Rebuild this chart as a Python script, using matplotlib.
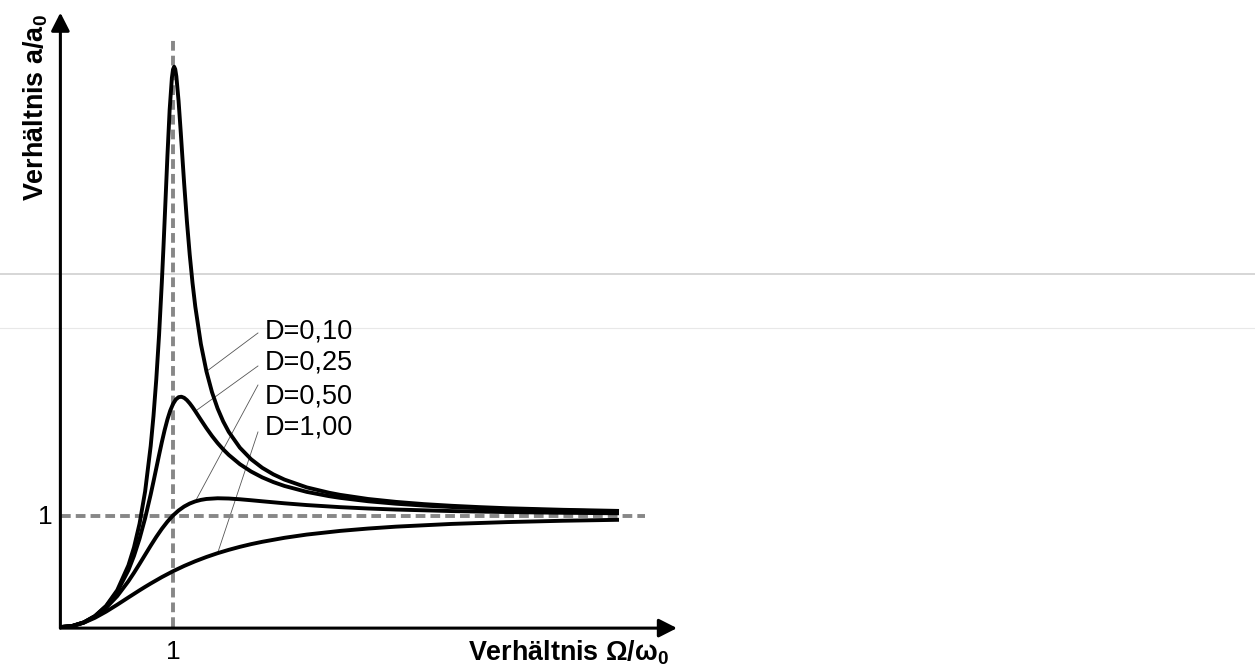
import matplotlib
matplotlib.use("Agg")
import matplotlib.pyplot as plt
from matplotlib.lines import Line2D

plt.rcParams['font.family'] = ['Liberation Sans', 'DejaVu Sans']
plt.rcParams['mathtext.fontset'] = 'custom'
plt.rcParams['mathtext.rm'] = 'Liberation Sans'
plt.rcParams['mathtext.bf'] = 'Liberation Sans:bold'

# Omega/omega0 against a/a0
eta_010 = [0, 0.1, 0.2, 0.3, 0.4, 0.5, 0.6, 0.65, 0.7, 0.75,
           0.8, 0.825, 0.85, 0.875, 0.9, 0.915, 0.93, 0.95, 0.97, 0.99,
           1.0, 1.01, 1.02, 1.03, 1.05, 1.07, 1.085, 1.1, 1.125, 1.15,
           1.175, 1.2, 1.25, 1.3, 1.35, 1.4, 1.45, 1.5, 1.6, 1.7,
           1.8, 1.9, 2.0, 2.2, 2.4, 2.5, 2.75, 3.0, 3.25, 3.5,
           3.75, 4.0, 4.5, 5.0]
amp_010 = [0, 0.0101, 0.0416, 0.0987, 0.1896, 0.3304, 0.5528, 0.7137, 0.9265, 1.216,
           1.624, 1.893, 2.220, 2.618, 3.095, 3.418, 3.762, 4.226, 4.640, 4.925,
           5.0, 5.025, 5.003, 4.939, 4.718, 4.430, 4.202, 3.978, 3.636, 3.339,
           3.086, 2.873, 2.538, 2.292, 2.105, 1.96, 1.844, 1.750, 1.608, 1.505,
           1.428, 1.369, 1.322, 1.252, 1.204, 1.185, 1.148, 1.122, 1.102, 1.087,
           1.075, 1.065, 1.051, 1.041]

eta_025 = [0, 0.1, 0.2, 0.3, 0.4, 0.5, 0.6, 0.65, 0.7, 0.75,
           0.8, 0.825, 0.85, 0.875, 0.9, 0.925, 0.95, 0.975, 1.0, 1.025,
           1.05, 1.075, 1.1, 1.125, 1.15, 1.175, 1.2, 1.25, 1.3, 1.35,
           1.4, 1.45, 1.5, 1.6, 1.7, 1.8, 1.9, 2.0, 2.2, 2.4,
           2.5, 2.75, 3.0, 3.25, 3.5, 3.75, 4.0, 4.5, 5.0]
amp_025 = [0, 0.0101, 0.0414, 0.0976, 0.1853, 0.3162, 0.5093, 0.6376, 0.7922, 0.9762,
           1.1893, 1.3047, 1.4234, 1.5426, 1.6582, 1.7660, 1.8613, 1.9401, 2.0, 2.0401,
           2.0612, 2.0652, 2.0554, 2.0346, 2.0059, 1.9723, 1.9354, 1.8582, 1.7828, 1.7128,
           1.6497, 1.5934, 1.5435, 1.4602, 1.3946, 1.3421, 1.2997, 1.2649, 1.2117, 1.1734,
           1.1581, 1.1279, 1.1057, 1.0890, 1.0760, 1.0656, 1.0573, 1.0448, 1.0361]

eta_050 = [0, 0.1, 0.2, 0.3, 0.4, 0.5, 0.6, 0.65, 0.7, 0.75,
           0.8, 0.85, 0.9, 0.95, 1.0, 1.05, 1.1, 1.15, 1.2, 1.25,
           1.3, 1.4, 1.5, 1.6, 1.7, 1.8, 2.0, 2.2, 2.5, 2.75,
           3.0, 3.5, 4.0, 4.5, 5.0]
amp_050 = [0, 0.0101, 0.0408, 0.0939, 0.172, 0.2774, 0.4104, 0.4859, 0.5658, 0.6478,
           0.7295, 0.8080, 0.8806, 0.9450, 1.0, 1.0450, 1.0805, 1.1073, 1.1267, 1.1399,
           1.1483, 1.1546, 1.1523, 1.1456, 1.1369, 1.1275, 1.1094, 1.0936, 1.0748, 1.0628,
           1.0534, 1.0397, 1.0307, 1.0243, 1.0198]

eta_100 = [0, 0.1, 0.2, 0.3, 0.4, 0.5, 0.6, 0.65, 0.7, 0.75,
           0.8, 0.9, 1.0, 1.1, 1.2, 1.3, 1.4, 1.5, 1.6, 1.7,
           1.8, 2.0, 2.2, 2.5, 2.75, 3.0, 3.5, 4.0, 4.5, 5.0]
amp_100 = [0, 0.0099, 0.0385, 0.0826, 0.138, 0.2, 0.265, 0.297, 0.329, 0.36,
           0.390, 0.4475, 0.5, 0.5475, 0.590, 0.628, 0.662, 0.692, 0.719, 0.743,
           0.764, 0.8, 0.829, 0.862, 0.883, 0.9, 0.9245, 0.941, 0.953, 0.9615]

labels = ["D=0,10", "D=0,25", "D=0,50", "D=1,00"]
# where each leader line touches its curve
anchor_eta = [1.3, 1.2, 1.2, 1.4]
label_y = [2.646, 2.368, 2.063, 1.785]
leader_end_y = [2.637, 2.341, 2.17, 1.749]

W, H = 1255, 666
x0, y0, u = 61.5, 627, 111.5  # origin in pixels and pixels per unit
span = 5.6

fig = plt.figure(figsize=(W / 100, H / 100), dpi=100)
fig.patch.set_facecolor('white')

# faint horizontal rules across the whole picture
fig.add_artist(Line2D([0, 1], [1 - 274 / H] * 2, color='#cfcfcf', lw=1.2, zorder=-1))
fig.add_artist(Line2D([0, 1], [1 - 328 / H] * 2, color='#e8e8e8', lw=0.8, zorder=-1))

ax = fig.add_axes([x0 / W, (H - y0) / H, span * u / W, span * u / H])
ax.set_xlim(0, span)
ax.set_ylim(0, span)
ax.axis('off')
ax.patch.set_alpha(0)

grey = '#878787'
ax.plot([1, 1], [0, 5.28], color=grey, lw=2.8, dashes=(2.5, 1.3), zorder=2, clip_on=False)
ax.plot([0, 5.23], [1, 1], color=grey, lw=2.8, dashes=(2.5, 1.3), zorder=2, clip_on=False)

curves = [(eta_010, amp_010), (eta_025, amp_025), (eta_050, amp_050), (eta_100, amp_100)]
for (xs, ys), lab, ae, ty, ly in zip(curves, labels, anchor_eta, label_y, leader_end_y):
    ax.plot(xs, ys, color='black', lw=2.8, solid_joinstyle='round', solid_capstyle='butt',
            zorder=3, clip_on=False)
    i = xs.index(ae)
    ax.plot([xs[i], 1.762], [ys[i], ly], color='#555555', lw=0.6, zorder=1)
    ax.text(1.825, ty, lab, fontsize=19.5, ha='left', va='center')

# axes with arrow heads
arrow = dict(arrowstyle='-|>,head_length=0.55,head_width=0.28', mutation_scale=20,
             lw=2.2, color='black', shrinkA=0, shrinkB=0)
ax.annotate('', xy=(5.52, -0.01), xytext=(-0.01, -0.01), arrowprops=arrow, annotation_clip=False)
ax.annotate('', xy=(-0.01, 5.51), xytext=(-0.01, -0.01), arrowprops=arrow, annotation_clip=False)

ax.text(1.0, -0.224, '1', fontsize=19, ha='center', va='center')
ax.text(-0.148, 0.99, '1', fontsize=19, ha='center', va='center')

ax.text(3.646, -0.296, r'Verhältnis Ω/ω$_{\mathbf{0}}$', fontsize=19.4, fontweight='bold',
        ha='left', va='baseline', clip_on=False)
ax.text(-0.229, 4.66, r'Verhältnis a/a$_{\mathbf{0}}$', fontsize=19.4, fontweight='bold',
        rotation=90, ha='center', va='center', clip_on=False)

fig.savefig('out.png', dpi=100)
